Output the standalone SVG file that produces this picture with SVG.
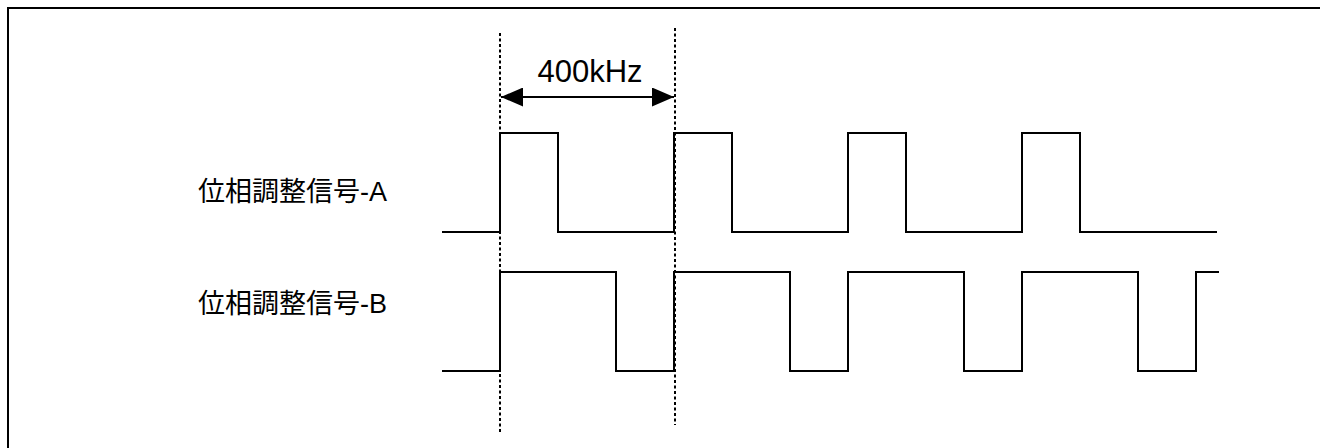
<svg xmlns="http://www.w3.org/2000/svg" width="1320" height="448" viewBox="0 0 1320 448">
<style>
.frame{fill:none;stroke:#000;stroke-width:2}
.wave{fill:none;stroke:#000;stroke-width:2;stroke-linejoin:miter}
.guide{fill:none;stroke:#000;stroke-width:2;stroke-dasharray:3 2.5}
.lbl{font-family:"Liberation Sans","Noto Sans CJK JP",sans-serif;font-size:27px;fill:#000}
.dim{font-family:"Liberation Sans","Noto Sans CJK JP",sans-serif;font-size:31px;fill:#000}
</style>
<defs>
<marker id="ah" viewBox="0 0 22 19" refX="22" refY="9.5" markerWidth="22" markerHeight="19" markerUnits="userSpaceOnUse" orient="auto-start-reverse">
<path d="M0,0 L22,9.5 L0,19 Z" fill="#000"/>
</marker>
</defs>
<rect class="frame" x="8" y="8" width="1330" height="460"/>
<g id="label-a"><text class="lbl" x="198" y="201">位相調整信号-A</text></g>
<g id="label-b"><text class="lbl" x="198" y="313">位相調整信号-B</text></g>
<g id="signal-a"><path class="wave" d="M442,232 H500 V133 H558 V232 H674 V133 H732 V232 H848 V133 H906 V232 H1022 V133 H1080 V232 H1217"/></g>
<g id="signal-b"><path class="wave" d="M442,371 H500 V272 H616 V371 H674 V272 H790 V371 H848 V272 H964 V371 H1022 V272 H1138 V371 H1196 V272 H1219"/></g>
<g id="connectors">
<line class="guide" x1="500" y1="33" x2="500" y2="432"/>
<line class="guide" x1="675" y1="28" x2="675" y2="425"/>
<line x1="501" y1="97" x2="674" y2="97" stroke="#000" stroke-width="2" marker-start="url(#ah)" marker-end="url(#ah)"/>
</g>
<g id="dim-label"><text class="dim" x="590" y="82" text-anchor="middle">400kHz</text></g>
</svg>
